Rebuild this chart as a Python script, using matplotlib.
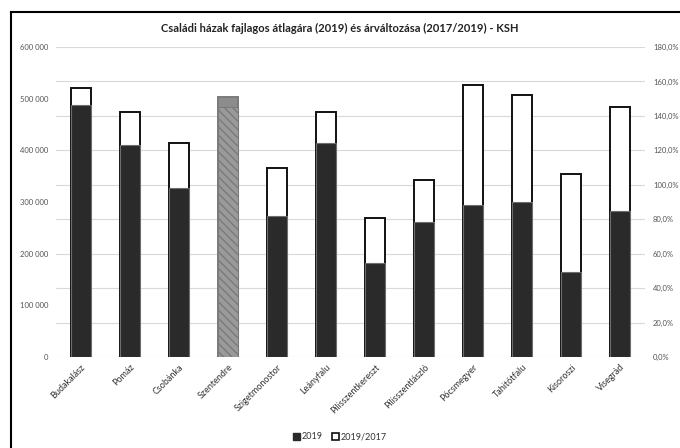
import matplotlib
matplotlib.use("Agg")
import matplotlib.pyplot as plt
from matplotlib.lines import Line2D
from matplotlib.patches import Patch
from matplotlib.ticker import FuncFormatter

# Települések és adatok
telepulesek = ["Budakalász", "Pomáz", "Csobánka", "Szentendre", "Szigetmonostor",
               "Leányfalu", "Pilisszentkereszt", "Pilisszentlászló", "Pócsmegyer",
               "Tahitótfalu", "Kisoroszi", "Visegrád"]
ar_2019 = [488000, 410000, 327000, 484000, 273000, 414000,
           182000, 261000, 294000, 300000, 165000, 283000]
valtozas_2019_2017 = [156, 142, 124, 151, 110, 142, 81, 103, 158, 152, 106, 145]
kiemelt = "Szentendre"

bal_tengely = [0, 100000, 200000, 300000, 400000, 500000, 600000]
jobb_tengely = [0, 20, 40, 60, 80, 100, 120, 140, 160, 180]

plt.rcParams["font.family"] = ["Lato", "DejaVu Sans"]

fig = plt.figure(figsize=(6.8, 4.48), dpi=100)
ax2 = fig.add_axes([0.083, 0.203, 0.865, 0.692])
ax = ax2.twinx()
# primary (price) axis on the left, drawn above the ratio axis
ax.yaxis.tick_left()
ax2.yaxis.tick_right()
ax.set_zorder(ax2.get_zorder() + 1)
ax.patch.set_visible(False)

x = list(range(len(telepulesek)))
w = 0.41

ratio_colors = ["#8c8c8c" if t == kiemelt else "white" for t in telepulesek]
ratio_edges = ["#7a7a7a" if t == kiemelt else "#111111" for t in telepulesek]
ax2.bar(x, valtozas_2019_2017, width=w, color=ratio_colors,
        edgecolor=ratio_edges, linewidth=1.4, zorder=2)

bars = ax.bar(x, ar_2019, width=w, color="#2a2a2a", edgecolor="#6e6e6e",
              linewidth=0.8, zorder=3)
for b, t in zip(bars, telepulesek):
    if t == kiemelt:
        b.set_facecolor("#9a9a9a")
        b.set_edgecolor("#7a7a7a")
        b.set_hatch("\\\\\\\\")

ax.set_ylim(0, 600000)
ax2.set_ylim(0, 180)
ax2.set_xlim(-0.5, len(telepulesek) - 0.5)

ax.set_yticks(bal_tengely)
ax.yaxis.set_major_formatter(FuncFormatter(
    lambda v, p: f"{int(v):,}".replace(",", " ")))
ax2.set_yticks(jobb_tengely)
ax2.yaxis.set_major_formatter(FuncFormatter(
    lambda v, p: f"{v:.1f}%".replace(".", ",")))

ax2.grid(axis="y", color="#d9d9d9", linewidth=0.8, zorder=0)
ax2.set_axisbelow(True)

for a in (ax, ax2):
    for s in a.spines.values():
        s.set_visible(False)
    a.tick_params(length=0, labelsize=5.5, colors="#555555")
ax.tick_params(axis="y", pad=6)
ax2.tick_params(axis="y", pad=6)

ax2.set_xticks(x)
ax2.set_xticklabels(telepulesek, rotation=45, ha="right", rotation_mode="anchor",
                    fontsize=6.5, color="#333333")
ax2.tick_params(axis="x", pad=4)

fig.text(0.5, 0.937, "Családi házak fajlagos átlagára (2019) és árváltozása (2017/2019) - KSH",
         ha="center", va="center", fontsize=8, fontweight="bold", color="#222222")

handles = [Patch(facecolor="#2a2a2a", edgecolor="#2a2a2a"),
           Patch(facecolor="white", edgecolor="#111111", linewidth=1.2)]
fig.legend(handles, ["2019", "2019/2017"], loc="center", bbox_to_anchor=(0.5, 0.025),
           ncol=2, frameon=False, fontsize=6.5, handlelength=0.8, handleheight=0.8,
           handletextpad=0.2, columnspacing=1.0, labelcolor="#333333")

# chart frame
fig.add_artist(Line2D([11 / 680, 1.0], [1 - 12 / 448, 1 - 12 / 448],
                      transform=fig.transFigure, color="black", linewidth=1.5))
fig.add_artist(Line2D([11 / 680, 11 / 680], [0.0, 1 - 12 / 448],
                      transform=fig.transFigure, color="black", linewidth=1.5))

fig.savefig("out.png", dpi=100)
